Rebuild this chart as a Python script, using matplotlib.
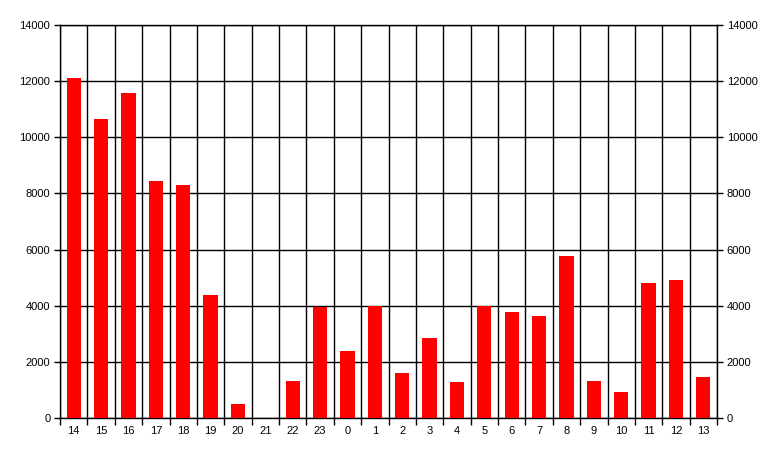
import numpy as np
import matplotlib
matplotlib.use('Agg')
import matplotlib.pyplot as plt

# heures (axe x) et valeurs
heures = ['14', '15', '16', '17', '18', '19', '20', '21', '22', '23',
          '0', '1', '2', '3', '4', '5', '6', '7', '8', '9', '10', '11', '12', '13']
valeurs = [12100, 10640, 11570, 8440, 8300, 4390, 500, 0, 1330, 3940,
           2400, 3990, 1610, 2860, 1290, 4000, 3760, 3620, 5760, 1330, 940, 4800, 4900, 1470]
graduations_y = [0, 2000, 4000, 6000, 8000, 10000, 12000, 14000]

plt.rcParams['font.family'] = ['Liberation Sans', 'DejaVu Sans']

fig = plt.figure(figsize=(7.77, 4.57), dpi=100)
ax = fig.add_axes([60 / 777, 39 / 457, 657 / 777, 393 / 457])

x = np.arange(len(heures))
ax.bar(x, valeurs, width=0.52, color='#ff0000', zorder=3)

ax.set_xlim(-0.5, len(heures) - 0.5)
ax.set_ylim(0, 14000)

# graduations en x : étiquettes au centre, traits aux limites des catégories
ax.set_xticks(x)
ax.set_xticklabels(heures)
ax.set_xticks(np.arange(-0.5, len(heures)), minor=True)
ax.tick_params(axis='x', which='major', length=0, pad=6, labelsize=8)
ax.tick_params(axis='x', which='minor', length=5, width=1, direction='out', color='black')

ax.set_yticks(graduations_y)
ax.tick_params(axis='y', which='major', length=4, width=1, direction='out',
               left=True, right=True, labelleft=True, labelright=True, labelsize=8, pad=3)

# quadrillage
for v in np.arange(-0.5, len(heures)):
    ax.axvline(v, color='black', linewidth=1, zorder=1)
for g in graduations_y:
    ax.axhline(g, color='black', linewidth=1, zorder=1)

for s in ax.spines.values():
    s.set_linewidth(1)
    s.set_color('black')

fig.savefig('out.png', dpi=100)
